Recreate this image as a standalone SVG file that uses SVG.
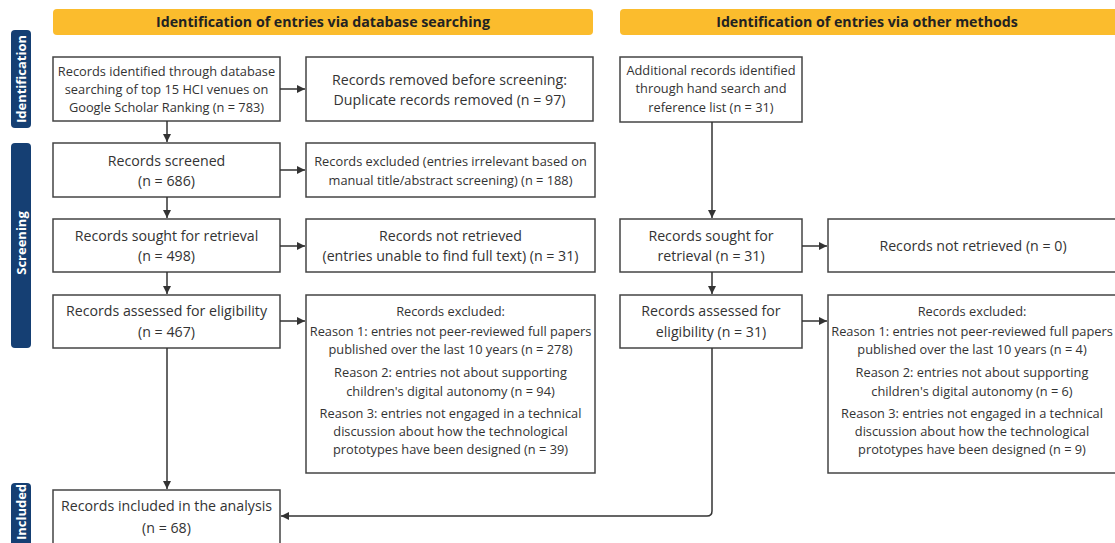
<svg xmlns="http://www.w3.org/2000/svg" width="1115" height="543" viewBox="0 0 1115 543">
<style>
.hdr{fill:#FBBC2D}
.hdrt{font-family:"Open Sans","Liberation Sans",sans-serif;font-weight:bold;font-size:14.2px;fill:#222;text-anchor:middle}
.side{fill:#153F73}
.sidet{font-family:"Open Sans","Liberation Sans",sans-serif;font-weight:bold;font-size:13px;fill:#fff;text-anchor:middle}
.box{fill:#fff;stroke:#444;stroke-width:1.5}
.t{font-family:"Open Sans","Liberation Sans",sans-serif;font-size:12.8px;fill:#333;text-anchor:middle}
.tl{font-family:"Open Sans","Liberation Sans",sans-serif;font-size:14.2px;fill:#333;text-anchor:middle}
.c{fill:none;stroke:#333;stroke-width:1.5}
</style>
<defs>
<marker id="ah" viewBox="0 0 10 10" refX="10" refY="5" markerWidth="8" markerHeight="8" markerUnits="userSpaceOnUse" orient="auto">
<path d="M0,0 L10,5 L0,10 z" fill="#333"/>
</marker>
</defs>
<rect width="1115" height="543" fill="#fff"/>

<g id="hdr-db"><rect class="hdr" x="53" y="9" width="540" height="26" rx="4"/><text class="hdrt" x="323" y="27">Identification of entries via database searching</text></g>
<g id="hdr-other"><rect class="hdr" x="620" y="9" width="500" height="26" rx="4"/><text class="hdrt" x="867" y="27">Identification of entries via other methods</text></g>

<g id="side-ident"><rect class="side" x="11" y="30" width="20" height="98" rx="4"/><text class="sidet" transform="translate(25.5,79) rotate(-90)">Identification</text></g>
<g id="side-screen"><rect class="side" x="11" y="143" width="20" height="205" rx="4"/><text class="sidet" transform="translate(25.5,243) rotate(-90)">Screening</text></g>
<g id="side-incl"><rect class="side" x="11" y="483" width="20" height="80" rx="4"/><text class="sidet" transform="translate(25.5,512) rotate(-90)">Included</text></g>

<g id="n-identified"><rect class="box" x="53" y="57" width="227" height="64"/>
<text class="t" x="166.5" y="76">Records identified through database</text>
<text class="t" x="166.5" y="94">searching of top 15 HCI venues on</text>
<text class="t" x="166.5" y="112">Google Scholar Ranking (n = 783)</text></g>

<g id="n-removed"><rect class="box" x="306" y="57" width="287" height="64"/>
<text class="tl" x="449.5" y="85">Records removed before screening:</text>
<text class="tl" x="449.5" y="105">Duplicate records removed (n = 97)</text></g>

<g id="n-screened"><rect class="box" x="53" y="143" width="227" height="54"/>
<text class="tl" x="166.5" y="166">Records screened</text>
<text class="tl" x="166.5" y="186">(n = 686)</text></g>

<g id="n-excl1"><rect class="box" x="306" y="143" width="289" height="54"/>
<text class="t" x="450.5" y="166">Records excluded (entries irrelevant based on</text>
<text class="t" x="450.5" y="185">manual title/abstract screening) (n = 188)</text></g>

<g id="n-sought"><rect class="box" x="53" y="219" width="227" height="53"/>
<text class="tl" x="166.5" y="241">Records sought for retrieval</text>
<text class="tl" x="166.5" y="261">(n = 498)</text></g>

<g id="n-notret"><rect class="box" x="306" y="219" width="289" height="53"/>
<text class="tl" x="450.5" y="241">Records not retrieved</text>
<text class="tl" x="450.5" y="261">(entries unable to find full text) (n = 31)</text></g>

<g id="n-assessed"><rect class="box" x="53" y="295" width="227" height="53"/>
<text class="tl" x="166.5" y="316">Records assessed for eligibility</text>
<text class="tl" x="166.5" y="337">(n = 467)</text></g>

<g id="n-excl2"><rect class="box" x="306" y="295" width="289" height="178"/>
<text class="t" x="450.5" y="316">Records excluded:</text>
<text class="t" x="450.5" y="336">Reason 1: entries not peer-reviewed full papers</text>
<text class="t" x="450.5" y="354">published over the last 10 years (n = 278)</text>
<text class="t" x="450.5" y="377">Reason 2: entries not about supporting</text>
<text class="t" x="450.5" y="396">children's digital autonomy (n = 94)</text>
<text class="t" x="450.5" y="418">Reason 3: entries not engaged in a technical</text>
<text class="t" x="450.5" y="436">discussion about how the technological</text>
<text class="t" x="450.5" y="454">prototypes have been designed (n = 39)</text></g>

<g id="n-included"><rect class="box" x="53" y="490" width="227" height="60"/>
<text class="tl" x="166.5" y="511">Records included in the analysis</text>
<text class="tl" x="166.5" y="533">(n = 68)</text></g>

<g id="n-additional"><rect class="box" x="620" y="57" width="182" height="65"/>
<text class="t" x="711" y="75">Additional records identified</text>
<text class="t" x="711" y="93">through hand search and</text>
<text class="t" x="711" y="112">reference list (n = 31)</text></g>

<g id="n-sought2"><rect class="box" x="620" y="219" width="182" height="53"/>
<text class="tl" x="711" y="241">Records sought for</text>
<text class="tl" x="711" y="261">retrieval (n = 31)</text></g>

<g id="n-notret2"><rect class="box" x="828" y="219" width="300" height="53"/>
<text class="tl" x="973" y="251">Records not retrieved (n = 0)</text></g>

<g id="n-assessed2"><rect class="box" x="620" y="295" width="182" height="53"/>
<text class="tl" x="711" y="316">Records assessed for</text>
<text class="tl" x="711" y="337">eligibility (n = 31)</text></g>

<g id="n-excl3"><rect class="box" x="828" y="295" width="300" height="178"/>
<text class="t" x="972" y="316">Records excluded:</text>
<text class="t" x="972" y="336">Reason 1: entries not peer-reviewed full papers</text>
<text class="t" x="972" y="354">published over the last 10 years (n = 4)</text>
<text class="t" x="972" y="377">Reason 2: entries not about supporting</text>
<text class="t" x="972" y="396">children's digital autonomy (n = 6)</text>
<text class="t" x="972" y="418">Reason 3: entries not engaged in a technical</text>
<text class="t" x="972" y="436">discussion about how the technological</text>
<text class="t" x="972" y="454">prototypes have been designed (n = 9)</text></g>

<g id="connectors">
<path class="c" d="M280,89 H305" marker-end="url(#ah)"/>
<path class="c" d="M167,121 V142" marker-end="url(#ah)"/>
<path class="c" d="M280,170 H305" marker-end="url(#ah)"/>
<path class="c" d="M167,197 V218" marker-end="url(#ah)"/>
<path class="c" d="M280,246 H305" marker-end="url(#ah)"/>
<path class="c" d="M167,272 V294" marker-end="url(#ah)"/>
<path class="c" d="M280,321 H305" marker-end="url(#ah)"/>
<path class="c" d="M167,348 V489" marker-end="url(#ah)"/>
<path class="c" d="M712,122 V218" marker-end="url(#ah)"/>
<path class="c" d="M802,246 H827" marker-end="url(#ah)"/>
<path class="c" d="M712,272 V294" marker-end="url(#ah)"/>
<path class="c" d="M802,321 H827" marker-end="url(#ah)"/>
<path class="c" d="M712,348 V511 Q712,516 707,516 H281" marker-end="url(#ah)"/>
</g>
</svg>
